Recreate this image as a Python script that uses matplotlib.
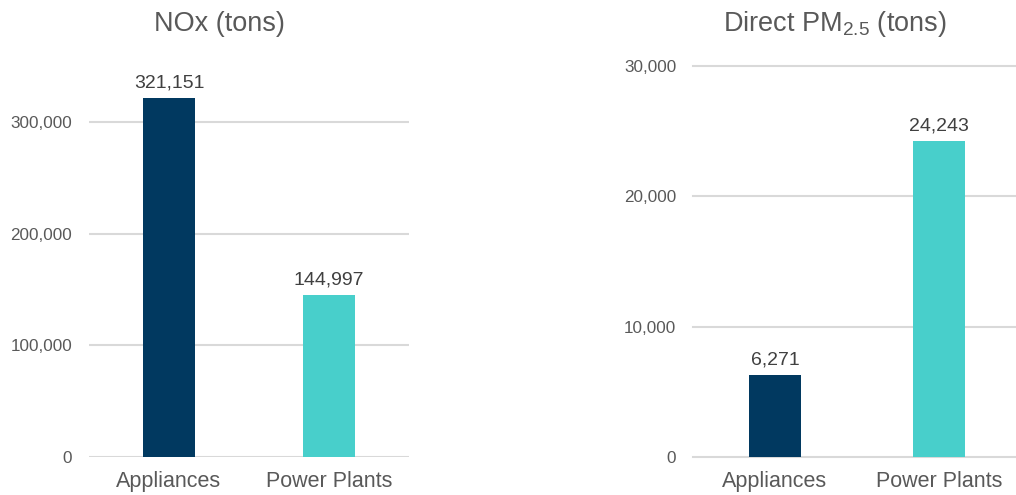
import matplotlib
matplotlib.use("Agg")
import matplotlib.pyplot as plt
from matplotlib.ticker import FuncFormatter

plt.rcParams['font.family'] = ['Liberation Sans', 'DejaVu Sans']

# data
categories = ['Appliances', 'Power Plants']
nox_values = [321151, 144997]
pm25_values = [6271, 24243]
nox_ticks = [0, 100000, 200000, 300000]
pm25_ticks = [0, 10000, 20000, 30000]

bar_colors = ['#013960', '#48CFCB']
grid_color = '#D9D9D9'
text_gray = '#595959'
label_gray = '#404040'

fig = plt.figure(figsize=(10.16, 4.95), dpi=100)

ax1 = fig.add_axes([0.0876, 0.0768, 0.315, 0.790])
ax2 = fig.add_axes([0.682, 0.0768, 0.3228, 0.790])

comma = FuncFormatter(lambda v, p: f'{int(v):,}')


def draw(ax, values, ticks, ymax):
    x = range(len(categories))
    bars = ax.bar(x, values, width=0.32, color=bar_colors, zorder=3)
    ax.set_xlim(-0.5, len(categories) - 0.5)
    ax.set_ylim(0, ymax)
    ax.set_yticks(ticks)
    ax.yaxis.set_major_formatter(comma)
    ax.set_xticks(list(x))
    ax.set_xticklabels(categories, fontsize=15.5, color=text_gray)
    ax.tick_params(axis='y', labelsize=12.3, labelcolor=text_gray, length=0, pad=12)
    ax.tick_params(axis='x', length=0, pad=10)
    ax.yaxis.grid(True, color=grid_color, linewidth=1.5, zorder=0)
    for s in ax.spines.values():
        s.set_visible(False)
    for b, v in zip(bars, values):
        ax.annotate(f'{v:,}', (b.get_x() + b.get_width() / 2, v),
                    xytext=(0, 5), textcoords='offset points',
                    ha='center', va='bottom', fontsize=14, color=label_gray)


draw(ax1, nox_values, nox_ticks, 350000)
draw(ax2, pm25_values, pm25_ticks, 30000)
for line in ax2.get_ygridlines():
    line.set_clip_on(False)

fig.text(219 / 1016, 1 - 24 / 495, 'NOx (tons)', ha='center', va='center',
         fontsize=19.5, color=text_gray)
fig.text(835 / 1016, 1 - 24 / 495, r'Direct PM$_{\mathregular{2.5}}$ (tons)',
         ha='center', va='center', fontsize=19.5, color=text_gray)

fig.savefig('out.png', dpi=100)
